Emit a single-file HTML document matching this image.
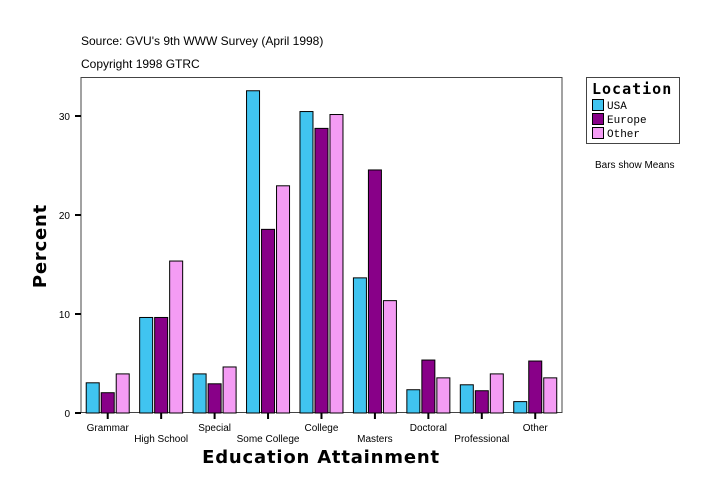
<!DOCTYPE html>
<html><head><meta charset="utf-8"><style>
body{margin:0;background:#fff;}
svg{display:block;font-family:"Liberation Sans",sans-serif;}
</style></head><body>
<svg id="c" width="724" height="502" xmlns="http://www.w3.org/2000/svg">
<text x="81" y="45" font-size="12">Source: GVU's 9th WWW Survey (April 1998)</text>
<text x="81" y="68" font-size="12">Copyright 1998 GTRC</text>
<rect x="81" y="77.5" width="481" height="335" fill="none" stroke="#444"/>
<g id="bars"></g>
<g id="axes"></g>
<text x="321" y="463" font-size="18" font-weight="bold" font-family="DejaVu Sans,sans-serif" text-anchor="middle" letter-spacing="0.8">Education Attainment</text>
<text transform="translate(46,246) rotate(-90)" font-size="18" font-weight="bold" font-family="DejaVu Sans,sans-serif" text-anchor="middle" letter-spacing="0.8">Percent</text>
<g>
<rect x="586.5" y="77.5" width="93" height="66" fill="#fff" stroke="#444"/>
<text x="592" y="94" font-size="15" font-weight="bold" font-family="DejaVu Sans Mono,monospace" letter-spacing="1">Location</text>
<g><rect x="592.5" y="99.5" width="11" height="11" fill="#40C4F0" stroke="#000"/><text x="607" y="109" font-size="11" font-family="Liberation Mono,monospace">USA</text></g>
<g><rect x="592.5" y="113.5" width="11" height="11" fill="#880088" stroke="#000"/><text x="607" y="123" font-size="11" font-family="Liberation Mono,monospace">Europe</text></g>
<g><rect x="592.5" y="127.5" width="11" height="11" fill="#F49CF4" stroke="#000"/><text x="607" y="137" font-size="11" font-family="Liberation Mono,monospace">Other</text></g>
</g>
<text x="595" y="168" font-size="10">Bars show Means</text>
</svg>
<script>
const categories=["Grammar","High School","Special","Some College","College","Masters","Doctoral","Professional","Other"];
const usa=[3.1,9.7,4.0,32.6,30.5,13.7,2.4,2.9,1.2];
const europe=[2.1,9.7,3.0,18.6,28.8,24.6,5.4,2.3,5.3];
const other=[4.0,15.4,4.7,23.0,30.2,11.4,3.6,4.0,3.6];
const yTicks=[0,10,20,30];
const NS="http://www.w3.org/2000/svg";
const x0=81,groupW=53.44,y0=413,pxPer=9.9;
const yS=v=>y0-v*pxPer;
const xC=i=>x0+groupW*(i+0.5);
const series=[[usa,"#40C4F0","usa"],[europe,"#880088","europe"],[other,"#F49CF4","other"]];
const bars=document.getElementById('bars'),axes=document.getElementById('axes');
function mk(t,a,p){const e=document.createElementNS(NS,t);for(const k in a)e.setAttribute(k,a[k]);p.appendChild(e);return e;}
series.forEach((s,si)=>{s[0].forEach((v,i)=>{
 const r=mk('rect',{x:xC(i)-22+si*15+0.5,y:yS(v)+0.5,width:13,height:y0-yS(v)-0.5,fill:s[1],stroke:'#000'},bars);
 
 
});});
yTicks.forEach(t=>{
 const l=mk('line',{x1:75,x2:81,y1:yS(t),y2:yS(t),stroke:'#000','stroke-width':2},axes);
 
 
 const tx=mk('text',{x:70,y:yS(t)+4,'font-size':10,'text-anchor':'end'},axes);tx.textContent=t;
 
 
});
categories.forEach((c,i)=>{
 const l=mk('line',{x1:xC(i),x2:xC(i),y1:413,y2:419,stroke:'#000','stroke-width':2},axes);
 
 
 const tx=mk('text',{x:xC(i),y:i%2?442:431,'font-size':10,'text-anchor':'middle'},axes);tx.textContent=c;
 
 
});
</script>
</body></html>
